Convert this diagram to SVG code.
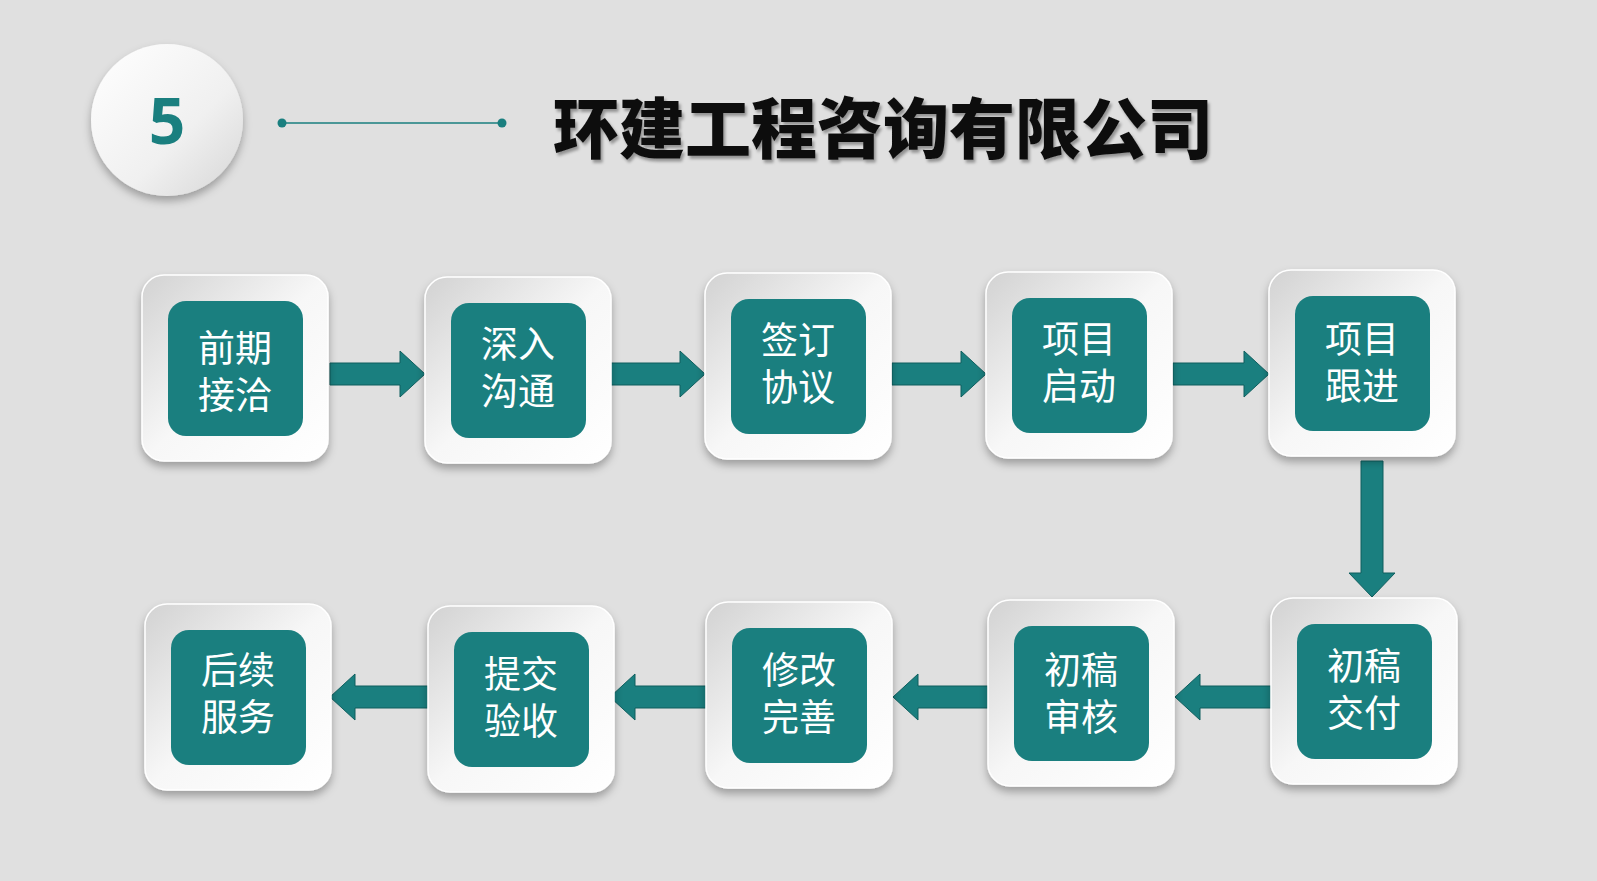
<svg xmlns="http://www.w3.org/2000/svg" width="1597" height="881" viewBox="0 0 1597 881">
<defs>
<linearGradient id="g" x1="0" y1="0" x2="1" y2="1"><stop offset="0" stop-color="#d2d2d2"/><stop offset="0.5" stop-color="#f7f7f7"/><stop offset="1" stop-color="#ffffff"/></linearGradient>
<linearGradient id="gc" x1="0" y1="0" x2="1" y2="1"><stop offset="0" stop-color="#ffffff"/><stop offset="0.6" stop-color="#f0f0f0"/><stop offset="1" stop-color="#d6d6d6"/></linearGradient>
<filter id="sh" x="-20%" y="-20%" width="140%" height="150%"><feDropShadow dx="0" dy="5" stdDeviation="4" flood-color="#000" flood-opacity="0.3"/></filter>
<filter id="ts" x="-5%" y="-10%" width="110%" height="130%"><feDropShadow dx="2" dy="3" stdDeviation="1.5" flood-color="#000" flood-opacity="0.35"/></filter>
</defs>
<style>
.o{fill:url(#g);stroke:#fff;stroke-width:1.5;filter:url(#sh)}
.i{fill:#1a7f7f}
.t{fill:#fff;font-family:"Noto Sans CJK SC",sans-serif;font-size:37px;text-anchor:middle}
.a{fill:#1a7f7f;stroke:#0f5f5f;stroke-width:1}
</style>
<rect width="1597" height="881" fill="#e0e0e0"/>
<g id="badge">
<circle cx="167" cy="120" r="76" fill="url(#gc)" filter="url(#sh)"/>
<text x="167" y="144" font-family="'Open Sans','Noto Sans',sans-serif" font-weight="bold" font-size="64" fill="#1a7f7f" text-anchor="middle">5</text>
<line x1="282" y1="123" x2="502" y2="123" stroke="#1a7f7f" stroke-width="1.5"/>
<circle cx="282" cy="123" r="4.5" fill="#1a7f7f"/><circle cx="502" cy="123" r="4.5" fill="#1a7f7f"/>
</g>
<text id="title" x="883" y="153" font-family="'Noto Sans CJK SC',sans-serif" font-weight="900" font-size="66" fill="#111" text-anchor="middle" filter="url(#ts)">环建工程咨询有限公司</text>
<g id="connectors">
<polygon class="a" points="330,363 400,363 400,351 425,374 400,397 400,385 330,385"/>
<polygon class="a" points="610,363 680,363 680,351 705,374 680,397 680,385 610,385"/>
<polygon class="a" points="892,363 961,363 961,351 986,374 961,397 961,385 892,385"/>
<polygon class="a" points="1173,363 1244,363 1244,351 1269,374 1244,397 1244,385 1173,385"/>
<polygon class="a" points="1361,461 1383,461 1383,573 1395,573 1372,597 1349,573 1361,573"/>
<polygon class="a" points="1271,686 1200,686 1200,674 1175,697 1200,720 1200,708 1271,708"/>
<polygon class="a" points="988,686 918,686 918,674 893,697 918,720 918,708 988,708"/>
<polygon class="a" points="706,686 635,686 635,674 610,697 635,720 635,708 706,708"/>
<polygon class="a" points="428,686 355,686 355,674 330,697 355,720 355,708 428,708"/>
</g>
<g id="n1"><rect class="o" x="142" y="275" width="186" height="186" rx="22"/><rect class="i" x="168" y="301" width="135" height="135" rx="18"/><text class="t" x="235" y="362">前期</text><text class="t" x="235" y="409">接洽</text></g>
<g id="n2"><rect class="o" x="425" y="277" width="186" height="186" rx="22"/><rect class="i" x="451" y="303" width="135" height="135" rx="18"/><text class="t" x="518" y="358">深入</text><text class="t" x="518" y="405">沟通</text></g>
<g id="n3"><rect class="o" x="705" y="273" width="186" height="186" rx="22"/><rect class="i" x="731" y="299" width="135" height="135" rx="18"/><text class="t" x="798" y="354">签订</text><text class="t" x="798" y="401">协议</text></g>
<g id="n4"><rect class="o" x="986" y="272" width="186" height="186" rx="22"/><rect class="i" x="1012" y="298" width="135" height="135" rx="18"/><text class="t" x="1079" y="353">项目</text><text class="t" x="1079" y="400">启动</text></g>
<g id="n5"><rect class="o" x="1269" y="270" width="186" height="186" rx="22"/><rect class="i" x="1295" y="296" width="135" height="135" rx="18"/><text class="t" x="1362" y="353">项目</text><text class="t" x="1362" y="400">跟进</text></g>
<g id="n6"><rect class="o" x="1271" y="598" width="186" height="186" rx="22"/><rect class="i" x="1297" y="624" width="135" height="135" rx="18"/><text class="t" x="1364" y="680">初稿</text><text class="t" x="1364" y="727">交付</text></g>
<g id="n7"><rect class="o" x="988" y="600" width="186" height="186" rx="22"/><rect class="i" x="1014" y="626" width="135" height="135" rx="18"/><text class="t" x="1081" y="684">初稿</text><text class="t" x="1081" y="731">审核</text></g>
<g id="n8"><rect class="o" x="706" y="602" width="186" height="186" rx="22"/><rect class="i" x="732" y="628" width="135" height="135" rx="18"/><text class="t" x="799" y="684">修改</text><text class="t" x="799" y="731">完善</text></g>
<g id="n9"><rect class="o" x="428" y="606" width="186" height="186" rx="22"/><rect class="i" x="454" y="632" width="135" height="135" rx="18"/><text class="t" x="521" y="688">提交</text><text class="t" x="521" y="735">验收</text></g>
<g id="n10"><rect class="o" x="145" y="604" width="186" height="186" rx="22"/><rect class="i" x="171" y="630" width="135" height="135" rx="18"/><text class="t" x="238" y="684">后续</text><text class="t" x="238" y="731">服务</text></g>
</svg>
